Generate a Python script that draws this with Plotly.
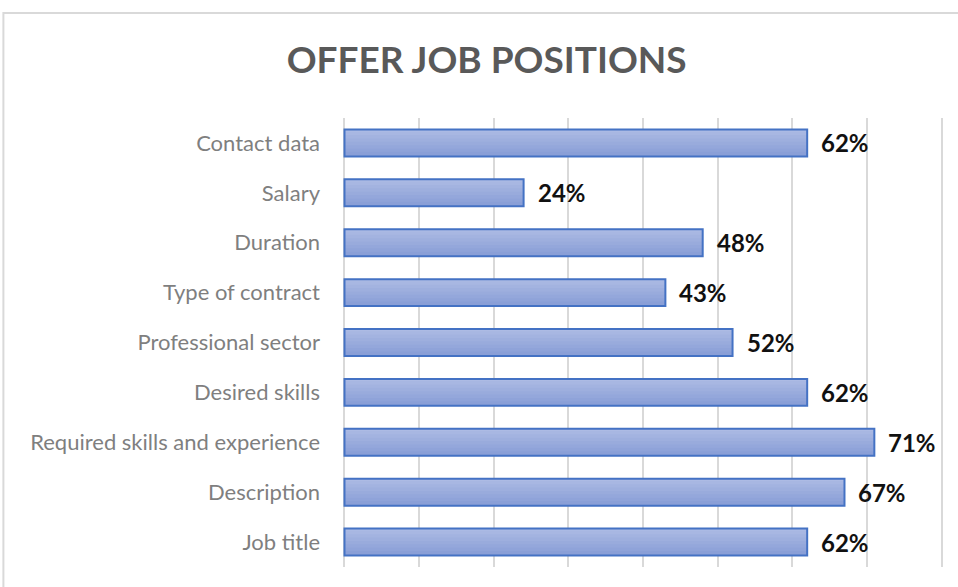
import plotly.graph_objects as go

# Share of job offers that include each field
categories = ["Job title", "Description", "Required skills and experience",
              "Desired skills", "Professional sector", "Type of contract",
              "Duration", "Salary", "Contact data"]
values = [0.62, 0.67, 0.71, 0.62, 0.52, 0.43, 0.48, 0.24, 0.62]
labels = ["62%", "67%", "71%", "62%", "52%", "43%", "48%", "24%", "62%"]

BAR_W = 0.54
# vertical gradient, top (light) to bottom (darker)
shades = ["#adbbe4", "#a8b7e2", "#a3b3e0", "#9eafde", "#99abdc",
          "#94a7db", "#8fa3d9", "#8a9fd7"]

fig = go.Figure()
n = len(shades)
band = BAR_W / n
for i, c in enumerate(shades):
    # band i counted from the top of the bar; each band overlaps the one above
    off = BAR_W / 2 - (i + 1) * band
    h = band * 1.35 if i > 0 else band
    fig.add_trace(go.Bar(
        y=categories, x=values, orientation="h",
        width=h, offset=off,
        marker=dict(color=c, line=dict(width=0)),
        hoverinfo="skip", showlegend=False,
    ))

# outline
fig.add_trace(go.Bar(
    y=categories, x=values, orientation="h",
    width=BAR_W, offset=-BAR_W / 2,
    marker=dict(color="rgba(0,0,0,0)", line=dict(color="#4472c4", width=2)),
    showlegend=False,
))

for cat, v, t in zip(categories, values, labels):
    fig.add_annotation(x=v, y=cat, text=t, showarrow=False,
                       xanchor="left", xshift=12,
                       font=dict(family="Lato", size=24, color="#111111", weight="bold"))

fig.update_layout(
    width=958, height=587,
    margin=dict(l=343, r=15, t=118, b=20),
    paper_bgcolor="white", plot_bgcolor="white",
    barmode="overlay",
    title=dict(text="<b>OFFER JOB POSITIONS</b>", x=0.508, xref="container",
               xanchor="center", y=0.897, yanchor="middle",
               font=dict(family="Lato", size=37, color="#595959")),
    xaxis=dict(range=[-0.002, 0.802], tickvals=[0, 0.1, 0.2, 0.3, 0.4, 0.5, 0.6, 0.7, 0.8],
               showticklabels=False,
               showgrid=True, gridcolor="#d9d9d9", gridwidth=2,
               zeroline=False, showline=False, fixedrange=True),
    yaxis=dict(categoryorder="array", categoryarray=categories,
               showgrid=False, zeroline=False, showline=False,
               ticklabelstandoff=22,
               tickfont=dict(family="Lato", size=22, color="#7f7f7f")),
    shapes=[dict(type="rect", xref="paper", yref="paper",
                 x0=-0.566, x1=1.2, y0=-0.2, y1=1.234,
                 line=dict(color="#d9d9d9", width=2), layer="below")],
)

fig.write_html("out.html")
